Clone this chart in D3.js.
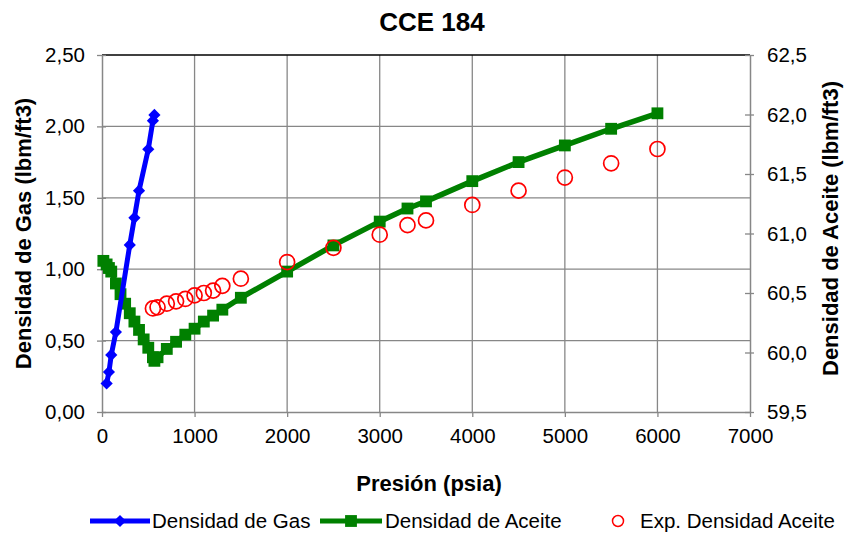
<!DOCTYPE html>
<html>
<head>
<meta charset="utf-8">
<script src="https://cdn.jsdelivr.net/npm/d3@7"></script>
<style>
  html, body { margin: 0; padding: 0; background: #fff; }
  svg { display: block; font-family: "Liberation Sans", Arial, sans-serif; }
</style>
</head>
<body>
<svg id="chart" width="844" height="533"></svg>
<script>
// Gas density (left axis)
const gasPressure = [50, 75, 100, 150, 300, 350, 400, 500, 550, 566];
const gasDensity  = [0.20, 0.28, 0.40, 0.56, 1.17, 1.36, 1.55, 1.84, 2.04, 2.08];

// Oil density, calculated (right axis)
const oilPressure = [14.7, 50, 75, 100, 150, 200, 250, 300, 350, 400, 450, 500, 550, 566,
                     600, 700, 800, 900, 1000, 1100, 1200, 1300, 1500,
                     2000, 2500, 3000, 3300, 3500, 4000, 4500, 5000, 5500, 6000];
const oilDensity  = [60.77, 60.74, 60.71, 60.68, 60.58, 60.49, 60.41, 60.33, 60.26, 60.19, 60.11, 60.04, 59.96, 59.93,
                     59.96, 60.03, 60.09, 60.15, 60.20, 60.26, 60.31, 60.36, 60.46,
                     60.68, 60.90, 61.10, 61.21, 61.27, 61.44, 61.60, 61.74, 61.88, 62.01];

// Oil density, experimental (right axis)
const expPressure = [550, 600, 700, 800, 900, 1000, 1100, 1200, 1300, 1500,
                     2000, 2500, 3000, 3300, 3500, 4000, 4500, 5000, 5500, 6000];
const expDensity  = [60.37, 60.38, 60.41, 60.43, 60.45, 60.48, 60.50, 60.52, 60.56, 60.62,
                     60.76, 60.88, 60.99, 61.07, 61.11, 61.24, 61.36, 61.47, 61.59, 61.71];

const xTicks = [0, 1000, 2000, 3000, 4000, 5000, 6000, 7000];
const yLeftTicks = [0, 0.5, 1.0, 1.5, 2.0, 2.5];
const yRightTicks = [59.5, 60.0, 60.5, 61.0, 61.5, 62.0, 62.5];

const svg = d3.select("#chart");
const m = { left: 102, right: 750, top: 55, bottom: 412 };

const x = d3.scaleLinear().domain([0, 7000]).range([m.left, m.right]);
const yL = d3.scaleLinear().domain([0, 2.5]).range([m.bottom, m.top]);
const yR = d3.scaleLinear().domain([59.5, 62.5]).range([m.bottom, m.top]);

const comma = f => v => d3.format(f)(v).replace(".", ",");
const gridColor = "#878787";
const textSize = 20.5;
const titleSize = 22;

// gridlines
const g = svg.append("g");
g.selectAll("line.h").data(yLeftTicks.slice(1, -1)).join("line")
  .attr("x1", m.left).attr("x2", m.right)
  .attr("y1", d => yL(d)).attr("y2", d => yL(d))
  .attr("stroke", gridColor).attr("stroke-width", 1.3);
g.selectAll("line.v").data(xTicks.slice(1, -1)).join("line")
  .attr("y1", m.top).attr("y2", m.bottom)
  .attr("x1", d => x(d)).attr("x2", d => x(d))
  .attr("stroke", gridColor).attr("stroke-width", 1.3);
// top border
svg.append("line").attr("x1", m.left).attr("x2", m.right)
  .attr("y1", m.top).attr("y2", m.top).attr("stroke", "#000").attr("stroke-width", 1.3);

// axes
function styleAxis(sel) {
  sel.select(".domain").attr("stroke", gridColor).attr("stroke-width", 1.5);
  sel.selectAll(".tick line").attr("stroke", gridColor).attr("stroke-width", 1.3);
  sel.selectAll("text").attr("font-size", textSize).attr("fill", "#000")
     .attr("font-family", "Liberation Sans, Arial, sans-serif");
}
const xAxis = svg.append("g").attr("transform", `translate(0,${m.bottom})`)
  .call(d3.axisBottom(x).tickValues(xTicks).tickFormat(d3.format("d")).tickSizeInner(5).tickSizeOuter(0).tickPadding(11));
styleAxis(xAxis);

const lAxis = svg.append("g").attr("transform", `translate(${m.left},0)`)
  .call(d3.axisLeft(yL).tickValues(yLeftTicks).tickFormat(comma(".2f")).tickSizeInner(5).tickSizeOuter(0).tickPadding(12));
styleAxis(lAxis);
lAxis.selectAll(".tick line").attr("x2", 4).attr("x1", -5);

const rAxis = svg.append("g").attr("transform", `translate(${m.right},0)`)
  .call(d3.axisRight(yR).tickValues(yRightTicks).tickFormat(comma(".1f")).tickSizeInner(5).tickSizeOuter(0).tickPadding(12));
styleAxis(rAxis);
rAxis.selectAll(".tick line").attr("x1", -5).attr("x2", 4);

// series
const gasData = gasPressure.map((p, i) => [p, gasDensity[i]]);
const oilData = oilPressure.map((p, i) => [p, oilDensity[i]]);
const expData = expPressure.map((p, i) => [p, expDensity[i]]);

const gasLine = d3.line().x(d => x(d[0])).y(d => yL(d[1]));
const oilLine = d3.line().x(d => x(d[0])).y(d => yR(d[1]));

const diamond = d3.symbol().type(d3.symbolDiamond2).size(95);
const square = d3.symbol().type(d3.symbolSquare).size(140);

// oil (calculated)
svg.append("path").datum(oilData).attr("d", oilLine)
  .attr("fill", "none").attr("stroke", "#008000").attr("stroke-width", 5.5).attr("stroke-linejoin", "round");
svg.append("g").selectAll("path").data(oilData).join("path")
  .attr("d", square).attr("transform", d => `translate(${x(d[0])},${yR(d[1])})`)
  .attr("fill", "#008000");

// gas
svg.append("path").datum(gasData).attr("d", gasLine)
  .attr("fill", "none").attr("stroke", "#0000FF").attr("stroke-width", 5).attr("stroke-linejoin", "round");
svg.append("g").selectAll("path").data(gasData).join("path")
  .attr("d", diamond).attr("transform", d => `translate(${x(d[0])},${yL(d[1])})`)
  .attr("fill", "#0000FF");

// oil (experimental)
svg.append("g").selectAll("circle").data(expData).join("circle")
  .attr("cx", d => x(d[0])).attr("cy", d => yR(d[1])).attr("r", 7.5)
  .attr("fill", "none").attr("stroke", "#FF0000").attr("stroke-width", 1.7);

// titles
svg.append("text").attr("x", 432).attr("y", 31).attr("text-anchor", "middle")
  .attr("font-size", 26).attr("font-weight", "bold").text("CCE 184");
svg.append("text").attr("x", 429).attr("y", 491).attr("text-anchor", "middle")
  .attr("font-size", titleSize).attr("font-weight", "bold").text("Presión (psia)");
svg.append("text").attr("transform", `translate(31,${(m.top + m.bottom) / 2}) rotate(-90)`)
  .attr("text-anchor", "middle").attr("font-size", titleSize).attr("font-weight", "bold")
  .text("Densidad de Gas (lbm/ft3)");
svg.append("text").attr("transform", `translate(838,${(m.top + m.bottom) / 2 - 5}) rotate(-90)`)
  .attr("text-anchor", "middle").attr("font-size", titleSize).attr("font-weight", "bold")
  .text("Densidad de Aceite (lbm/ft3)");

// legend
const leg = svg.append("g").attr("transform", "translate(0,521)");
function legLine(x0, x1, color, sym) {
  leg.append("line").attr("x1", x0).attr("x2", x1).attr("y1", 0).attr("y2", 0)
    .attr("stroke", color).attr("stroke-width", 5);
  leg.append("path").attr("d", sym).attr("transform", `translate(${(x0 + x1) / 2},0)`).attr("fill", color);
}
legLine(90, 150, "#0000FF", diamond);
leg.append("text").attr("x", 152).attr("y", 7).attr("font-size", textSize).text("Densidad de Gas");
legLine(320, 382, "#008000", square);
leg.append("text").attr("x", 385).attr("y", 7).attr("font-size", textSize).text("Densidad de Aceite");
leg.append("circle").attr("cx", 618).attr("cy", 0).attr("r", 5.5)
  .attr("fill", "none").attr("stroke", "#FF0000").attr("stroke-width", 1.5);
leg.append("text").attr("x", 640).attr("y", 7).attr("font-size", textSize).text("Exp. Densidad Aceite");
</script>
</body>
</html>
